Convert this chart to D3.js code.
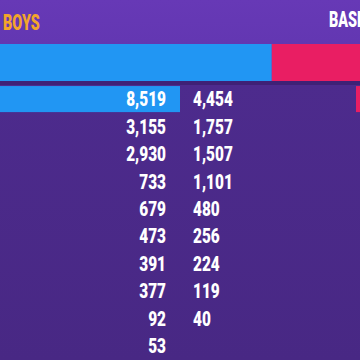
<!DOCTYPE html>
<html><head><meta charset="utf-8">
<script src="https://cdn.jsdelivr.net/npm/d3@7"></script>
<style>
html,body{margin:0;padding:0;background:#4b2a88;overflow:hidden;}
svg{display:block;}
text{font-family:Roboto,"Liberation Sans",sans-serif;font-weight:900;}
</style></head>
<body>
<script>
const headerLabels = ["BOYS", "BASKETBALL"];
const boysValues = [8519, 3155, 2930, 733, 679, 473, 391, 377, 92, 53];
const girlsValues = [4454, 1757, 1507, 1101, 480, 256, 224, 119, 40, null];
const rowIndex = d3.range(boysValues.length);
const highlightRow = 0;

const W = 360, H = 360;
const svg = d3.select("body").append("svg").attr("width", W).attr("height", H);

const defs = svg.append("defs");
const g1 = defs.append("linearGradient").attr("id","bgTop").attr("x1",0).attr("y1",0).attr("x2",0).attr("y2",1);
g1.append("stop").attr("offset","0%").attr("stop-color","#6739b6");
g1.append("stop").attr("offset","100%").attr("stop-color","#5f35ae");
const g2 = defs.append("linearGradient").attr("id","bgBot").attr("x1",0).attr("y1",0).attr("x2",0).attr("y2",1);
g2.append("stop").attr("offset","0%").attr("stop-color","#4d2b8d");
g2.append("stop").attr("offset","100%").attr("stop-color","#482884");

svg.append("rect").attr("x",0).attr("y",0).attr("width",W).attr("height",82).attr("fill","url(#bgTop)");
svg.append("rect").attr("x",0).attr("y",82).attr("width",W).attr("height",H-82).attr("fill","url(#bgBot)");
svg.append("rect").attr("x",0).attr("y",81).attr("width",W).attr("height",4).attr("fill","#3f2176");

function ctext(sel, x, yv, sx){ return sel.attr("transform", `translate(${x},${yv}) scale(${sx},1)`); }

// headers
ctext(svg.append("text"), 3, 30, 0.64).attr("fill","#f2a52a").attr("font-size",22.5).text(headerLabels[0]);
ctext(svg.append("text"), 329, 27, 0.64).attr("fill","#ffffff").attr("font-size",22.5).text(headerLabels[1]);

// stacked total bar
const boysTotal = d3.sum(boysValues), girlsTotal = d3.sum(girlsValues);
const xTot = d3.scaleLinear().domain([0, boysTotal + girlsTotal]).range([0, 427]);
svg.append("rect").attr("x", xTot(0)).attr("y",44).attr("width", xTot(boysTotal)-xTot(0)).attr("height",37).attr("fill","#2196f3");
svg.append("rect").attr("x", xTot(boysTotal)).attr("y",44).attr("width", xTot(boysTotal+girlsTotal)-xTot(boysTotal)).attr("height",37).attr("fill","#e91e63");

// rows
const y = d3.scaleBand().domain(rowIndex).range([85.5, 359.5]).paddingInner(0.05).paddingOuter(0.02);

// highlight bars for selected row
svg.append("rect").attr("x",0).attr("y",y(highlightRow)).attr("width",180).attr("height",y.bandwidth()).attr("fill","#2196f3");
svg.append("rect").attr("x",356).attr("y",y(highlightRow)).attr("width",10).attr("height",y.bandwidth()).attr("fill","#e91e63");

const fmt = d3.format(",");
svg.selectAll("text.boys").data(rowIndex).join("text").attr("class","boys")
  .attr("transform", i => `translate(166,${y(i)+y.bandwidth()/2}) scale(0.77,1)`).attr("dy","0.36em")
  .attr("text-anchor","end").attr("fill","#ffffff").attr("font-size",20)
  .text(i => fmt(boysValues[i]));
svg.selectAll("text.girls").data(rowIndex.filter(i => girlsValues[i] != null)).join("text").attr("class","girls")
  .attr("transform", i => `translate(193,${y(i)+y.bandwidth()/2}) scale(0.77,1)`).attr("dy","0.36em")
  .attr("text-anchor","start").attr("fill","#ffffff").attr("font-size",20)
  .text(i => fmt(girlsValues[i]));
</script>
</body></html>
